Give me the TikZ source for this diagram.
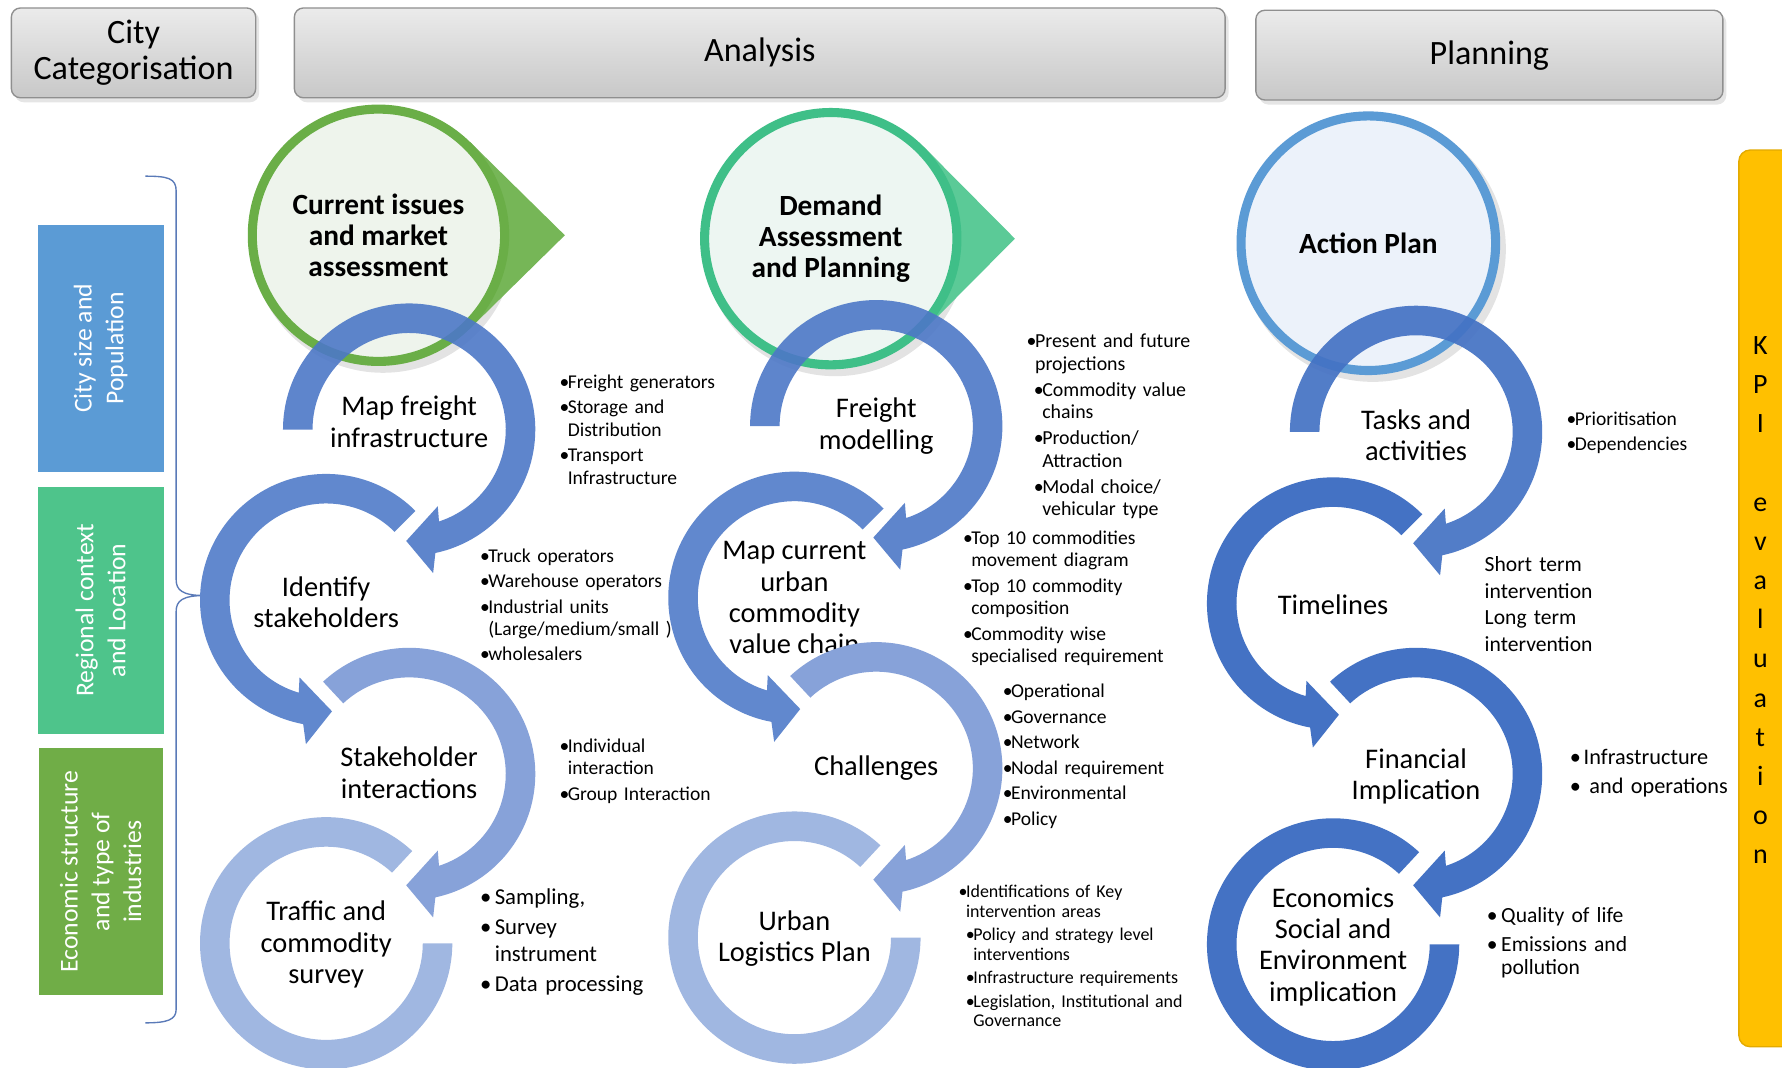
\documentclass[tikz,border=0pt]{standalone}
\usepackage{fontspec}
\setmainfont{Carlito}
\usetikzlibrary{calc}
\definecolor{ringa}{HTML}{4D78C7}
\definecolor{ringb}{HTML}{6188CE}
\definecolor{ringc}{HTML}{87A2D9}
\definecolor{ringd}{HTML}{A0B7E1}
\definecolor{ringp}{HTML}{4472C4}
\definecolor{gborder}{HTML}{6AAE47}
\definecolor{gtri}{HTML}{76B657}
\definecolor{gfill}{HTML}{EEF4EC}
\definecolor{tborder}{HTML}{3FBF88}
\definecolor{ttri}{HTML}{5BCA97}
\definecolor{tfill}{HTML}{EDF6F2}
\definecolor{bborder}{HTML}{5B9BD5}
\definecolor{bfill}{HTML}{ECF2FA}
\definecolor{barblue}{HTML}{5B9BD5}
\definecolor{barteal}{HTML}{4EC48B}
\definecolor{bargreen}{HTML}{70AD47}
\definecolor{kpi}{HTML}{FFC000}
\definecolor{kpiline}{HTML}{E3AA00}
\definecolor{hdrtop}{HTML}{EBEBEB}
\definecolor{hdrbot}{HTML}{C8C8C8}
\definecolor{hdrline}{HTML}{8F8F8F}
\definecolor{bracec}{HTML}{5A7AB8}

\newcommand{\bp}[2][0.42em]{\hangindent=#1\hangafter=1\noindent\makebox[#1][l]{\textbullet}#2\par}
\newcommand{\bq}[2][0.42em]{\leftskip=3.2pt\hangindent=#1\hangafter=1\noindent\makebox[#1][l]{\textbullet}#2\par}

\newcommand{\ringarrow}[5]{%
  \begin{scope}[shift={(#1,#2)}]
    \pgfmathsetmacro{\rgS}{(#4>#3)?1:-1}
    \pgfmathsetmacro{\rgOB}{#4+3*\rgS}
    \pgfmathsetmacro{\rgIB}{#4-3*\rgS}
    \pgfmathsetmacro{\rgOF}{#4+5.5*\rgS}
    \pgfmathsetmacro{\rgIF}{#4-5.5*\rgS}
    \pgfmathsetmacro{\rgTP}{#4+16.5*\rgS}
    \fill[#5] (#3:111) arc[start angle=#3,end angle=\rgOB,radius=111]
      -- (\rgOF:128) -- (\rgTP:98) -- (\rgIF:72) -- (\rgIB:85)
      arc[start angle=\rgIB,end angle=#3,radius=85] -- cycle;
  \end{scope}}
\newcommand{\ringplain}[5]{%
  \begin{scope}[shift={(#1,#2)}]
    \fill[#5] (#3:111) arc[start angle=#3,end angle=#4,radius=111]
      -- (#4:85) arc[start angle=#4,end angle=#3,radius=85] -- cycle;
  \end{scope}}

\begin{document}
\begin{tikzpicture}[x=0.5pt,y=-0.5pt,
  hdr/.style={draw=hdrline, line width=0.6pt, rounded corners=4pt, top color=hdrtop, bottom color=hdrbot,
    inner sep=0, align=center, font=\fontsize{15}{16}\selectfont, minimum height=39.5pt},
  bar/.style={rotate=90, inner sep=0, text=white, align=center, font=\fontsize{11.3}{14}\selectfont,
    minimum height=55.5pt, minimum width=108.5pt},
  circ/.style={circle, inner sep=0, minimum size=111pt, line width=4pt, align=center,
    font=\fontsize{12.9}{13.6}\selectfont\bfseries},
  lbl/.style={align=center, inner sep=0, font=\fontsize{12.5}{13.8}\selectfont},
  blk/.style={anchor=base west, inner sep=0, text width=150pt, align=left}]
\clip (0,0) rectangle (1568,939);
\fill[white] (0,0) rectangle (1568,939);

% header boxes (with soft shadow)
\fill[black, opacity=0.10, rounded corners=4pt] (13,10) rectangle (228,90);
\fill[black, opacity=0.10, rounded corners=4pt] (262,10) rectangle (1081,90);
\fill[black, opacity=0.10, rounded corners=4pt] (1108,12) rectangle (1519,92);
\node[hdr, minimum width=107.5pt] (hcity) at (117.5,46.5) {City\\Categorisation};
\node[hdr, minimum width=409.5pt] (hana) at (668.5,46.5) {Analysis};
\node[hdr, minimum width=205.5pt] (hplan) at (1310.5,48.5) {Planning};

% left bars
\node[bar, fill=barblue] (bsize) at (88.5,306.5) {City size and\\Population};
\node[bar, fill=barteal] (bregion) at (88.5,537) {Regional context\\and Location};
\node[bar, fill=bargreen, minimum height=54.5pt] (becon) at (88.5,767) {Economic structure\\and type of\\industries};

% brace
\draw[bracec, line width=0.6pt] (128,155) .. controls (148,155) and (155,157) .. (155,168)
  -- (155,510) .. controls (155,519) and (160,524) .. (180,524)
  .. controls (160,524) and (155,529) .. (155,538) -- (155,888)
  .. controls (155,897) and (148,900) .. (128,900);

% top circles
\fill[black, opacity=0.11] (337,212) circle[radius=116];
\fill[gtri] (333,207) -- (413.6,125) -- (497,207) -- (413.6,289) -- cycle;
\node[circ, draw=gborder, fill=gfill] (cur) at (333,207) {Current issues\\and market\\assessment};

\fill[black, opacity=0.11] (735,215) circle[radius=116];
\fill[ttri] (731,210) -- (812.6,129) -- (893,210) -- (812.6,291) -- cycle;
\node[circ, draw=tborder, fill=tfill] (dem) at (731,210) {Demand\\Assessment\\and Planning};

\fill[black, opacity=0.11] (1208,219) circle[radius=117];
\node[circ, minimum size=112pt, draw=bborder, fill=bfill] (act) at (1204,214) {Action Plan};

% column 1 rings
\ringarrow{360}{378}{180}{435}{ringa, fill opacity=0.9}
\node[lbl] (mapf) at (360,371) {Map freight\\infrastructure};
\ringarrow{287}{528}{-45}{-256.5}{ringb}
\node[lbl] (ident) at (287,530) {Identify\\stakeholders};
\ringarrow{360}{681}{227}{435}{ringc}
\node[lbl] (sint) at (360,680) {Stakeholder\\interactions};
\ringplain{287}{830}{-47}{-360}{ringd}
\node[lbl] (traf) at (287,831) {Traffic and\\commodity\\survey};

% column 2 rings
\ringarrow{771}{375}{180}{435}{ringa, fill opacity=0.9}
\node[lbl] (fmod) at (771,375) {Freight\\modelling};
\ringarrow{699}{526}{-45}{-256.5}{ringb}
\node[lbl] (mapc) at (699,526) {Map current\\urban\\commodity\\value chain};
\ringarrow{771}{676}{227}{435}{ringc}
\node[lbl] (chal) at (771,676) {Challenges};
\ringplain{699}{825}{-47}{-360}{ringd}
\node[lbl] (ulp) at (699,826) {Urban\\Logistics Plan};

% column 3 rings
\ringarrow{1246}{380}{180}{435}{ringp, fill opacity=0.92}
\node[lbl] (tasks) at (1246,383) {Tasks and\\activities};
\ringarrow{1173}{531}{-45}{-256.5}{ringp}
\node[lbl] (time) at (1173,532) {Timelines};
\ringarrow{1246}{681}{227}{435}{ringp}
\node[lbl] (fin) at (1246,683) {Financial\\Implication};
\ringplain{1173}{831}{-47}{-360}{ringp}
\node[lbl] (econ) at (1173,833) {Economics\\Social and\\Environment\\implication};

% text blocks column 1
\node[blk, font=\fontsize{8.6}{10}\selectfont\setlength{\parskip}{1pt}] (t1) at (492,342)
  {\bp{Freight generators}\bp{Storage and\newline Distribution}\bp{Transport\newline Infrastructure}};
\node[blk, font=\fontsize{8.6}{9.75}\selectfont\setlength{\parskip}{1.4pt}] (t2) at (422,495)
  {\bp{Truck operators}\bp{Warehouse operators}\bp{Industrial units\newline (Large/medium/small )}\bp{wholesalers}};
\node[blk, font=\fontsize{8.6}{9.75}\selectfont\setlength{\parskip}{1.5pt}] (t3) at (492,662)
  {\bp{Individual\newline interaction}\bp{Group Interaction}};
\node[blk, font=\fontsize{10}{11.5}\selectfont\setlength{\parskip}{1.8pt}] (t4) at (422,796)
  {\bp[0.65em]{Sampling,}\bp[0.65em]{Survey\newline instrument}\bp[0.65em]{Data processing}};

% text blocks column 2
\node[blk, font=\fontsize{8.75}{10}\selectfont\setlength{\parskip}{1.3pt}] (t5) at (903,306)
  {\bp{Present and future\newline projections}\bq{Commodity value\newline chains}\bq{Production/\newline Attraction}\bq{Modal choice/\newline vehicular type}};
\node[blk, font=\fontsize{8.6}{9.75}\selectfont\setlength{\parskip}{1.6pt}] (t6) at (847,479)
  {\bp{Top 10 commodities\newline movement diagram}\bp{Top 10 commodity\newline composition}\bp{Commodity wise\newline specialised requirement}};
\node[blk, font=\fontsize{8.6}{11.2}\selectfont\setlength{\parskip}{0pt}] (t7) at (882,614)
  {\bp{Operational}\bp{Governance}\bp{Network}\bp{Nodal requirement}\bp{Environmental}\bp{Policy}};
\node[blk, font=\fontsize{7.9}{8.5}\selectfont\setlength{\parskip}{1.9pt}] (t8) at (843,790)
  {\bp{Identifications of Key\newline intervention areas}\bq{Policy and strategy level\newline interventions}\bq{Infrastructure requirements}\bq{Legislation, Institutional and\newline Governance}};

% text blocks column 3
\node[blk, font=\fontsize{8.6}{11}\selectfont\setlength{\parskip}{0pt}] (t9) at (1378,374)
  {\bp{Prioritisation}\bp{Dependencies}};
\node[blk, font=\fontsize{9.5}{11.7}\selectfont] (t10) at (1306,503)
  {Short term\\intervention\\Long term\\intervention};
\node[blk, font=\fontsize{9.8}{12.5}\selectfont\setlength{\parskip}{0pt}] (t11) at (1381,673)
  {\bp[0.62em]{Infrastructure}\bp[0.62em]{\hspace*{2.5pt}and operations}};
\node[blk, font=\fontsize{9.5}{10.2}\selectfont\setlength{\parskip}{2.3pt}] (t12) at (1308,812)
  {\bp[0.66em]{Quality of life}\bp[0.66em]{Emissions and\newline pollution}};

% KPI bar
\draw[kpiline, fill=kpi, rounded corners=5pt, line width=0.6pt] (1530,132) rectangle (1600,921);
\node[font=\fontsize{12.3}{17.25}\selectfont, align=center, inner sep=0] (kpit) at (1549,528)
  {K\\P\\I\\\mbox{}\\e\\v\\a\\l\\u\\a\\t\\i\\o\\n};
\end{tikzpicture}
\end{document}
